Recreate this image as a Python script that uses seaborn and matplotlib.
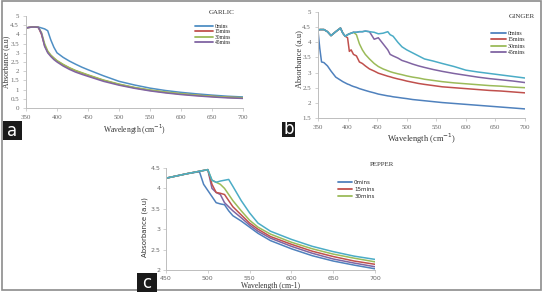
import numpy as np
import pandas as pd
import matplotlib
matplotlib.use("Agg")
import matplotlib.pyplot as plt
from matplotlib.patches import Rectangle
from matplotlib.lines import Line2D
import seaborn as sns

# ---------------- data ----------------
garlic_x = [350, 355, 360, 365, 370, 375, 380, 385, 390, 395, 400, 410, 420, 430, 440,
            450, 475, 500, 525, 550, 575, 600, 625, 650, 675, 700]
garlic_0 = [4.35, 4.38, 4.40, 4.40, 4.40, 4.35, 4.30, 4.20, 3.70, 3.30, 3.00, 2.75, 2.55,
            2.38, 2.22, 2.08, 1.75, 1.45, 1.25, 1.08, 0.95, 0.85, 0.77, 0.70, 0.64, 0.60]
garlic_15 = [4.35, 4.38, 4.40, 4.40, 4.38, 4.00, 3.40, 3.05, 2.85, 2.70, 2.55, 2.35, 2.17,
             2.02, 1.90, 1.78, 1.50, 1.28, 1.10, 0.96, 0.85, 0.76, 0.69, 0.63, 0.58, 0.55]
garlic_30 = [4.35, 4.38, 4.40, 4.40, 4.38, 4.10, 3.50, 3.10, 2.88, 2.72, 2.58, 2.37, 2.19,
             2.04, 1.92, 1.80, 1.52, 1.30, 1.12, 0.98, 0.87, 0.78, 0.70, 0.64, 0.59, 0.56]
garlic_45 = [4.35, 4.38, 4.40, 4.40, 4.38, 4.05, 3.35, 3.00, 2.80, 2.63, 2.50, 2.28, 2.10,
             1.95, 1.83, 1.72, 1.45, 1.24, 1.07, 0.93, 0.82, 0.73, 0.66, 0.60, 0.55, 0.52]

ginger_x = [350, 353, 356, 360, 366, 372, 380, 388, 392, 396, 400, 403, 406, 410, 415, 420,
            425, 430, 437, 445, 452, 460, 468, 472, 477, 485, 492, 500, 510, 520, 530, 545,
            560, 580, 600, 620, 640, 660, 680, 700]
ginger_0 = [4.38, 3.80, 3.35, 3.33, 3.22, 3.05, 2.85, 2.75, 2.70, 2.66, 2.62, 2.60, 2.57,
            2.54, 2.51, 2.47, 2.44, 2.41, 2.37, 2.33, 2.29, 2.26, 2.23, 2.22, 2.20, 2.18,
            2.16, 2.14, 2.11, 2.09, 2.07, 2.04, 2.01, 1.98, 1.95, 1.92, 1.89, 1.86, 1.83, 1.80]
ginger_15 = [4.40, 4.42, 4.42, 4.42, 4.35, 4.22, 4.35, 4.47, 4.30, 4.20, 4.15, 3.70, 3.75,
             3.60, 3.55, 3.35, 3.30, 3.22, 3.12, 3.05, 2.98, 2.93, 2.88, 2.86, 2.83, 2.79,
             2.76, 2.72, 2.68, 2.64, 2.61, 2.57, 2.53, 2.50, 2.47, 2.44, 2.41, 2.39, 2.36, 2.33]
ginger_30 = [4.40, 4.42, 4.42, 4.42, 4.35, 4.22, 4.35, 4.47, 4.30, 4.20, 4.25, 4.28, 4.30,
             4.33, 4.25, 3.95, 3.75, 3.60, 3.45, 3.30, 3.20, 3.12, 3.06, 3.03, 3.00, 2.96,
             2.93, 2.89, 2.85, 2.82, 2.78, 2.74, 2.70, 2.66, 2.63, 2.60, 2.57, 2.55, 2.52, 2.50]
ginger_45 = [4.40, 4.42, 4.42, 4.42, 4.35, 4.22, 4.35, 4.47, 4.30, 4.20, 4.25, 4.28, 4.30,
             4.33, 4.33, 4.35, 4.35, 4.37, 4.35, 4.10, 4.15, 3.95, 3.75, 3.60, 3.55, 3.48,
             3.40, 3.35, 3.28, 3.22, 3.17, 3.10, 3.04, 2.97, 2.91, 2.85, 2.80, 2.76, 2.72, 2.67]
ginger_60 = [4.40, 4.42, 4.42, 4.42, 4.35, 4.22, 4.35, 4.47, 4.30, 4.20, 4.25, 4.28, 4.30,
             4.33, 4.33, 4.35, 4.35, 4.37, 4.35, 4.33, 4.28, 4.30, 4.35, 4.25, 4.20, 4.00,
             3.85, 3.75, 3.65, 3.55, 3.45, 3.38, 3.30, 3.20, 3.08, 3.02, 2.97, 2.92, 2.87, 2.82]

pepper_x = [450, 475, 490, 495, 500, 505, 510, 515, 520, 525, 530, 540, 550, 560, 575,
            600, 625, 650, 675, 700]
pepper_a = [4.25, 4.36, 4.41, 4.10, 3.95, 3.80, 3.65, 3.62, 3.60, 3.45, 3.33, 3.20, 3.05,
            2.90, 2.72, 2.52, 2.35, 2.22, 2.12, 2.03]
pepper_b = [4.25, 4.36, 4.42, 4.44, 4.46, 4.00, 3.90, 3.85, 3.65, 3.55, 3.45, 3.28, 3.10,
            2.95, 2.78, 2.58, 2.41, 2.27, 2.17, 2.08]
pepper_c = [4.25, 4.36, 4.42, 4.44, 4.46, 4.10, 3.90, 3.88, 3.85, 3.70, 3.55, 3.35, 3.15,
            3.00, 2.82, 2.63, 2.46, 2.33, 2.22, 2.14]
pepper_d = [4.25, 4.36, 4.42, 4.44, 4.46, 4.20, 4.15, 4.10, 4.00, 3.85, 3.70, 3.45, 3.22,
            3.05, 2.88, 2.68, 2.52, 2.39, 2.29, 2.20]
pepper_e = [4.25, 4.36, 4.42, 4.44, 4.46, 4.20, 4.15, 4.18, 4.20, 4.22, 4.05, 3.70, 3.40,
            3.15, 2.95, 2.75, 2.58, 2.45, 2.34, 2.26]

garlic_labels = ["0mins", "15mins", "30mins", "45mins"]
ginger_labels = ["0mins", "15mins", "30mins", "45mins", "60mins"]
pepper_labels = ["0mins", "s2", "15mins", "30mins", "s5"]

BLUE, RED, GREEN, PURPLE, TEAL = "#4F81BD", "#C0504D", "#9BBB59", "#8064A2", "#4BACC6"

W, H = 542, 294

# ---------------- style ----------------
sns.set_theme(style="white")
plt.rcParams["font.family"] = ["Liberation Serif", "DejaVu Serif"]
plt.rcParams["axes.linewidth"] = 0.7

fig = plt.figure(figsize=(W / 100, H / 100), dpi=100)
fig.patch.set_facecolor("white")


def ax_px(left, top, right, bottom):
    return fig.add_axes([left / W, 1 - bottom / H, (right - left) / W, (bottom - top) / H])


def long_df(x, series, labels):
    rows = []
    for vals, lab in zip(series, labels):
        rows.append(pd.DataFrame({"Wavelength": x, "Absorbance": vals, "Series": lab}))
    return pd.concat(rows, ignore_index=True)


def style_axes(ax, family, tick_size, pad=3):
    for s in ["top", "right"]:
        ax.spines[s].set_visible(False)
    for s in ["left", "bottom"]:
        ax.spines[s].set_color("#bdbdbd")
        ax.spines[s].set_linewidth(0.7)
    ax.tick_params(axis="both", which="both", length=2, width=0.5, color="#bdbdbd",
                   labelsize=tick_size, labelcolor="#6a6a6a", pad=pad,
                   bottom=True, left=True)
    for lab in ax.get_xticklabels() + ax.get_yticklabels():
        lab.set_family(family)


# ---------------- panel a: garlic ----------------
ax1 = ax_px(26, 16, 243, 108)
df1 = long_df(garlic_x, [garlic_0, garlic_15, garlic_30, garlic_45], garlic_labels)
pal1 = dict(zip(garlic_labels, ["#4F8FC4", RED, GREEN, PURPLE]))
sns.lineplot(data=df1, x="Wavelength", y="Absorbance", hue="Series", palette=pal1,
             linewidth=1.1, legend=False, ax=ax1, estimator=None, sort=False)
ax1.set_xlim(350, 700)
ax1.set_ylim(0, 5)
ax1.set_xticks(np.arange(350, 701, 50))
ax1.set_yticks(np.arange(0, 5.01, 0.5))
ax1.set_yticklabels(["0", "0.5", "1", "1.5", "2", "2.5", "3", "3.5", "4", "4.5", "5"])
style_axes(ax1, ["Liberation Serif"], 5)
ax1.set_xlabel("Wavelength (cm$^{-1}$)", fontsize=5.5, color="#333333")
ax1.set_ylabel("Absorbance (a.u)", fontsize=5.5, color="#333333")
ax1.xaxis.set_label_coords(0.5, -0.16)
ax1.yaxis.set_label_coords(-0.075, 0.5)
ax1.text(222 / W, 1 - 13 / H, "GARLIC", transform=fig.transFigure, ha="center",
         va="center", fontsize=5, color="#333333")
h1 = [Line2D([], [], color=pal1[l], lw=1.3) for l in garlic_labels]
ax1.legend(h1, garlic_labels, loc="upper left", bbox_to_anchor=((195 - 26) / 217, (108 - 24) / 92),
           frameon=False, fontsize=4, handlelength=3.2, handletextpad=0.3,
           labelspacing=0.05, borderpad=0, borderaxespad=0)

# ---------------- panel b: ginger ----------------
ax2 = ax_px(318, 12, 525, 118)
df2 = long_df(ginger_x, [ginger_0, ginger_15, ginger_30, ginger_45, ginger_60], ginger_labels)
pal2 = dict(zip(ginger_labels, [BLUE, RED, GREEN, PURPLE, TEAL]))
sns.lineplot(data=df2, x="Wavelength", y="Absorbance", hue="Series", palette=pal2,
             linewidth=1.1, legend=False, ax=ax2, estimator=None, sort=False)
ax2.set_xlim(350, 700)
ax2.set_ylim(1.5, 5)
ax2.set_xticks(np.arange(350, 701, 50))
ax2.set_yticks(np.arange(1.5, 5.01, 0.5))
ax2.set_yticklabels(["1.5", "2", "2.5", "3", "3.5", "4", "4.5", "5"])
style_axes(ax2, ["Liberation Serif"], 5)
ax2.set_xlabel("Wavelength (cm$^{-1}$)", fontsize=6, color="#333333")
ax2.set_ylabel("Absorbance (a.u)", fontsize=6, color="#333333")
ax2.xaxis.set_label_coords(0.5, -0.125)
ax2.yaxis.set_label_coords(-0.072, 0.56)
ax2.text(522 / W, 1 - 17 / H, "GINGER", transform=fig.transFigure, ha="center",
         va="center", fontsize=5, color="#333333")
lab2 = ginger_labels[:4]
h2 = [Line2D([], [], color=pal2[l], lw=1.3) for l in lab2]
ax2.legend(h2, lab2, loc="upper left", bbox_to_anchor=((491 - 318) / 207, (118 - 31) / 106),
           frameon=False, fontsize=4.2, handlelength=2.6, handletextpad=0.3,
           labelspacing=0.2, borderpad=0, borderaxespad=0)

# ---------------- panel c: pepper ----------------
ax3 = ax_px(166, 168, 375, 270)
df3 = long_df(pepper_x, [pepper_a, pepper_b, pepper_c, pepper_d, pepper_e], pepper_labels)
pal3 = dict(zip(pepper_labels, [BLUE, PURPLE, RED, GREEN, TEAL]))
sns.lineplot(data=df3, x="Wavelength", y="Absorbance", hue="Series", palette=pal3,
             linewidth=1.1, legend=False, ax=ax3, estimator=None, sort=False)
ax3.set_xlim(450, 700)
ax3.set_ylim(2, 4.5)
ax3.set_xticks(np.arange(450, 701, 50))
ax3.set_yticks(np.arange(2, 4.51, 0.5))
ax3.set_yticklabels(["2", "2.5", "3", "3.5", "4", "4.5"])
style_axes(ax3, ["DejaVu Sans"], 4.5, pad=2)
ax3.set_xlabel("Wavelength (cm-1)", fontsize=5.5, color="#333333", family="Liberation Serif")
ax3.set_ylabel("Absorbance (a.u)", fontsize=5, color="#333333", family="DejaVu Sans")
ax3.xaxis.set_label_coords(0.5, -0.115)
ax3.yaxis.set_label_coords(-0.085, 0.42)
ax3.text(382 / W, 1 - 165 / H, "PEPPER", transform=fig.transFigure, ha="center",
         va="center", fontsize=5, color="#333333")
lab3 = ["0mins", "15mins", "30mins"]
h3 = [Line2D([], [], color=pal3[l], lw=1.3) for l in lab3]
ax3.legend(h3, lab3, loc="upper left", bbox_to_anchor=((338 - 166) / 209, (270 - 180) / 102),
           frameon=False, prop={"family": "DejaVu Sans", "size": 4}, handlelength=2.6,
           handletextpad=0.3, labelspacing=0.35, borderpad=0, borderaxespad=0)

# ---------------- panel letters ----------------
for letter, (x0, y0, x1, y1) in [("a", (3, 121, 22, 140)), ("b", (282, 122, 295, 137)),
                                 ("c", (137, 273, 157, 292))]:
    fig.patches.append(Rectangle((x0 / W, 1 - y1 / H), (x1 - x0) / W, (y1 - y0) / H,
                                 transform=fig.transFigure, facecolor="#1a1a1a",
                                 edgecolor="none", zorder=5))
    fig.text((x0 + x1) / 2 / W, 1 - (y0 + y1) / 2 / H, letter, color="white",
             ha="center", va="center", fontsize=12, family="DejaVu Sans", zorder=6)

# ---------------- outer frame ----------------
fig.patches.append(Rectangle((2 / W, 1 - 290 / H), 539 / W, 289 / H, transform=fig.transFigure,
                             facecolor="none", edgecolor="#8c8c8c", linewidth=1.2, zorder=4))

fig.savefig("out.png", dpi=100)
